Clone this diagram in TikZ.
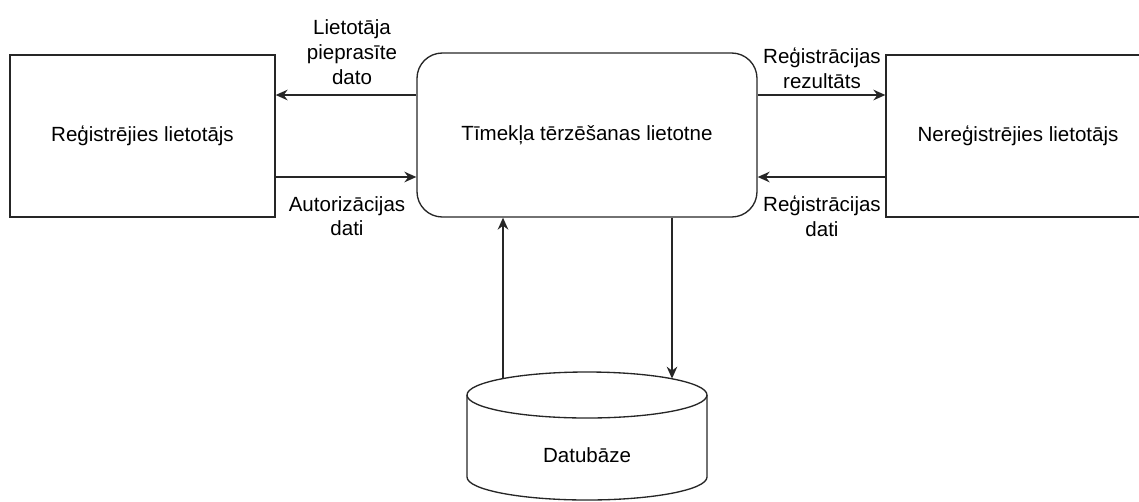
\documentclass[tikz,border=0pt]{standalone}
\usepackage{fontspec}
\setmainfont{Liberation Sans}
\usetikzlibrary{arrows.meta}
\begin{document}
\begin{tikzpicture}[x=0.75pt,y=-0.75pt,
  line width=1pt,
  box/.style={draw=black!85,line width=1pt,inner sep=0pt,font=\fontsize{15.4}{18}\selectfont},
  lbl/.style={align=center,inner sep=0pt,font=\fontsize{15.4}{18.5}\selectfont},
  arr/.style={draw=black!85,-{Stealth[length=9pt,width=8pt,inset=3pt]}}]
\useasboundingbox (0,0) rectangle (1139,501);
\clip (0,0) rectangle (1139,501);
% boxes
\node[box,minimum width=198.75pt,minimum height=121.5pt] (left) at (142.5,136) {Reģistrējies lietotājs};
\node[box,rounded corners=19pt,minimum width=255pt,minimum height=123pt] (app) at (587,135) {Tīmekļa tērzēšanas lietotne};
\node[box,minimum width=198.75pt,minimum height=121.5pt] (right) at (1018.5,136) {};
\node[lbl] (righttxt) at (1018,136) {Nereģistrējies lietotājs};
% database cylinder
\node[lbl,minimum width=180pt,minimum height=96pt] (db) at (587,436) {};
\node[lbl] (dbtxt) at (587,455) {Datubāze};
\draw[draw=black!85] (467,395) -- (467,477) arc[start angle=180,end angle=0,x radius=120,y radius=23] -- (707,395);
\draw[draw=black!85] (587,395) ellipse[x radius=120,y radius=23];
\coordinate (dbUp) at (503,378.6);
\coordinate (dbDown) at (672,378.6);
% connectors
\draw[arr] (app.west |- 0,95) -- (left.east |- 0,95);
\draw[arr] (left.east |- 0,177) -- (app.west |- 0,177);
\draw[arr] (app.east |- 0,95) -- (right.west |- 0,95);
\draw[arr] (right.west |- 0,177) -- (app.east |- 0,177);
\draw[arr] (dbUp) -- (app.south -| dbUp);
\draw[arr] (app.south -| dbDown) -- (dbDown);
% labels
\node[lbl] (l1) at (352,52) {Lietotāja\\pieprasīte\\dato};
\node[lbl] (l2) at (347,216) {Autorizācijas\\dati};
\node[lbl] (l3) at (822,68) {Reģistrācijas\\rezultāts};
\node[lbl] (l4) at (822,216) {Reģistrācijas\\dati};
\end{tikzpicture}
\end{document}
